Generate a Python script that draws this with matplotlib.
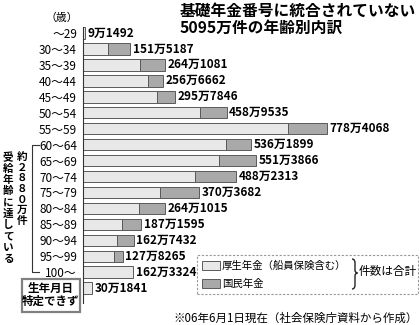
import matplotlib
matplotlib.use("Agg")
import matplotlib.pyplot as plt
from matplotlib.patches import Rectangle, PathPatch
from matplotlib.path import Path

plt.rcParams['font.family'] = ['Noto Sans CJK JP', 'DejaVu Sans']

categories = ["～29", "30～34", "35～39", "40～44", "45～49", "50～54", "55～59",
              "60～64", "65～69", "70～74", "75～79", "80～84", "85～89", "90～94",
              "95～99", "100～", ""]
totals = [91492, 1515187, 2641081, 2566662, 2957846, 4589535, 7784068, 5361899,
          5513866, 4882313, 3703682, 2641015, 1871595, 1627432, 1278265, 1623324, 301841]
# 万件 units
kosei = [9.1, 82, 183, 209.5, 236, 374, 655, 457, 434.5, 358, 247, 180, 125, 111, 100, 162.3, 30.2]
kokumin = [0, 69.5, 81.1, 47.2, 59.8, 85.0, 123.4, 79.2, 116.9, 130.2, 123.4, 84.1, 62.2, 51.7, 27.8, 0, 0]

title_lines = ["基礎年金番号に統合されていない", "5095万件の年齢別内訳"]
legend_labels = ["厚生年金（船員保険含む）", "国民年金"]
note = "※06年6月1日現在（社会保険庁資料から作成）"

LIGHT = "#e8e8e8"
DARK = "#a9a9a9"
EDGE = "#5a5a5a"

W, H = 420, 325
fig = plt.figure(figsize=(W / 100, H / 100), dpi=100)


def fx(x):
    return x / W


def fy(y):
    return 1 - y / H


ax = fig.add_axes([fx(82.5), fy(303), (415 - 82.5) / W, (303 - 27.4) / H])
ax.set_xlim(0, 332.5 / 0.3141)
ax.set_ylim(16.93, -0.35)

ys = list(range(len(categories)))
for i in ys:
    ax.barh(i, kosei[i], height=0.72, color=LIGHT, edgecolor=EDGE, linewidth=0.7)
    if kokumin[i] > 0:
        ax.barh(i, kokumin[i], left=kosei[i], height=0.72, color=DARK,
                edgecolor=EDGE, linewidth=0.7)
    t = totals[i]
    lab = f"{t // 10000}万{t % 10000:04d}"
    ax.annotate(lab, (t / 10000, i), xytext=(1.8, 0), textcoords='offset points',
                va='center', ha='left', fontsize=8.5, fontweight='bold')

ax.set_yticks(ys)
ax.set_yticklabels(categories, fontsize=8.5)
ax.tick_params(axis='y', length=0, pad=4)
ax.set_xticks([])
for s in ['top', 'right', 'bottom']:
    ax.spines[s].set_visible(False)
ax.spines['left'].set_color('#333333')
ax.spines['left'].set_linewidth(0.8)

# title
fig.text(fx(180), fy(11), title_lines[0], fontsize=11.3, fontweight='bold',
         ha='left', va='center')
fig.text(fx(180), fy(28), title_lines[1], fontsize=11.3, fontweight='bold',
         ha='left', va='center')

# unit
fig.text(fx(78), fy(18), "（歳）", fontsize=7.8, ha='right', va='center')

# bracket for 60~100
fig.add_artist(plt.Line2D([fx(39), fx(32), fx(32), fx(39)],
                          [fy(145), fy(145), fy(272), fy(272)],
                          color='#333333', lw=0.8))

# vertical texts
right_col = "約２８８０万件"
left_col = "受給年齢に達している"
for k, ch in enumerate(right_col):
    fig.text(fx(22), fy(157 + 10.6 * k), ch, fontsize=7.6, fontweight='bold',
             ha='center', va='center')
for k, ch in enumerate(left_col):
    fig.text(fx(8), fy(157.5 + 11.3 * k), ch, fontsize=7.6, fontweight='bold',
             ha='center', va='center')

# unknown birthday box
fig.add_artist(Rectangle((fx(22), fy(312)), (80 - 22) / W, (312 - 279) / H,
                         transform=fig.transFigure, facecolor='white',
                         edgecolor='#808080', linewidth=1.6))
fig.text(fx(51), fy(288.5), "生年月日", fontsize=8.3, fontweight='bold',
         ha='center', va='center')
fig.text(fx(51), fy(301), "特定できず", fontsize=8.3, fontweight='bold',
         ha='center', va='center')

# legend
fig.add_artist(Rectangle((fx(197), fy(294)), (418 - 197) / W, (294 - 255) / H,
                         transform=fig.transFigure, facecolor='none',
                         edgecolor='#999999', linewidth=0.8, linestyle=(0, (2, 1.5))))
fig.add_artist(Rectangle((fx(202), fy(270)), 18 / W, 9 / H, transform=fig.transFigure,
                         facecolor=LIGHT, edgecolor=EDGE, linewidth=0.7))
fig.add_artist(Rectangle((fx(202), fy(288)), 18 / W, 9 / H, transform=fig.transFigure,
                         facecolor=DARK, edgecolor=EDGE, linewidth=0.7))
fig.text(fx(222), fy(265.5), legend_labels[0], fontsize=7.5, ha='left', va='center')
fig.text(fx(222), fy(283.5), legend_labels[1], fontsize=7.5, ha='left', va='center')

# curly brace drawn as a path
bx, top, mid, bot = 352.0, 259.0, 273.0, 289.0
verts = [(bx, top), (bx + 3, top), (bx + 3, top + 4),
         (bx + 3, mid - 3), (bx + 3, mid), (bx + 5.5, mid),
         (bx + 3, mid), (bx + 3, mid + 3),
         (bx + 3, bot - 4), (bx + 3, bot), (bx, bot)]
codes = [Path.MOVETO, Path.CURVE3, Path.CURVE3,
         Path.LINETO, Path.CURVE3, Path.CURVE3,
         Path.CURVE3, Path.CURVE3,
         Path.LINETO, Path.CURVE3, Path.CURVE3]
verts_f = [(fx(x), fy(y)) for x, y in verts]
fig.add_artist(PathPatch(Path(verts_f, codes), transform=fig.transFigure,
                         facecolor='none', edgecolor='#222222', linewidth=1.0))
fig.text(fx(359), fy(272), "件数は合計", fontsize=8.4, ha='left', va='center')

# note
fig.text(fx(418), fy(318), note, fontsize=8.3, ha='right', va='center')

fig.savefig("out.png", dpi=100, facecolor='white')
